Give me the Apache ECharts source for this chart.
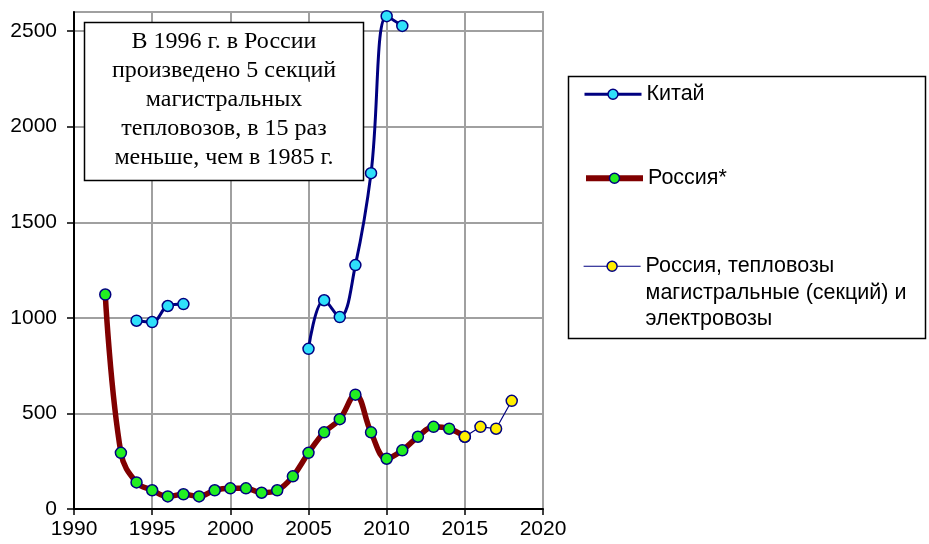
<!DOCTYPE html>
<html>
<head>
<meta charset="utf-8">
<script src="https://cdn.jsdelivr.net/npm/echarts@6/dist/echarts.min.js"></script>
<style>
  html, body { margin: 0; padding: 0; background: #fff; }
  #chart { width: 929px; height: 544px; }
</style>
</head>
<body>
<div id="chart"></div>
<script>
// Годы наблюдений (общая ось для всех рядов)
const years = [1992, 1993, 1994, 1995, 1996, 1997, 1998, 1999, 2000, 2001, 2002, 2003, 2004,
               2005, 2006, 2007, 2008, 2009, 2010, 2011, 2012, 2013, 2014, 2015, 2016, 2017, 2018];

// Китай (пропуски — нет данных)
const china = [null, null, 985, 978, 1062, 1072, null, null, null, null, null, null, null,
               838, 1092, 1004, 1276, 1757, 2578, 2527, null, null, null, null, null, null, null];

// Россия*
const russia = [1122, 294, 139, 98, 66, 77, 66, 98, 108, 108, 85, 98, 171,
                294, 401, 470, 598, 401, 263, 307, 378, 430, 420, 378, null, null, null];

// Россия, тепловозы магистральные (секций) и электровозы
const russiaLoco = [null, null, null, null, null, null, null, null, null, null, null, null, null,
                    null, null, null, null, null, null, null, null, null, null, 378, 430, 420, 566];

// Подписи делений осей
const xTicks = [1990, 1995, 2000, 2005, 2010, 2015, 2020];
const yTicks = [0, 500, 1000, 1500, 2000, 2500];

const seriesNames = ['Китай', 'Россия*', 'Россия, тепловозы магистральные (секций) и электровозы'];
const legendLabel3 = ['Россия, тепловозы', 'магистральные (секций) и', 'электровозы'];
const noteLines = ['В 1996 г. в России', 'произведено 5 секций', 'магистральных',
                   'тепловозов, в 15 раз', 'меньше, чем в 1985 г.'];

function pairs(values) {
  return years.map((y, i) => [y, values[i] == null ? null : values[i]]);
}

const NAVY = '#000080';
const MAROON = '#800000';
const GRID_GRAY = '#a0a0a0';
const sansFont = '"Liberation Sans", Arial, sans-serif';

const chart = echarts.init(document.getElementById('chart'), null, { renderer: 'canvas' });

const legendText = { color: '#000', fontSize: 21.5, fontFamily: sansFont, lineHeight: 26.5 };

function legendBlock(name, top, lineWidth, extra) {
  return Object.assign({
    data: [name], orient: 'vertical', left: 583, top: top, padding: 0,
    itemWidth: 57, itemHeight: 12.5, selectedMode: false, z: 20,
    lineStyle: { width: lineWidth },
    itemStyle: { borderWidth: 1.5, borderColor: NAVY },
    textStyle: legendText
  }, extra || {});
}

chart.setOption({
  animation: false,
  backgroundColor: '#fff',
  grid: {
    left: 74, right: 386, top: 12, bottom: 35, containLabel: false,
    show: true, borderColor: GRID_GRAY, borderWidth: 2, backgroundColor: 'transparent'
  },
  xAxis: {
    type: 'value',
    min: xTicks[0], max: xTicks[xTicks.length - 1], interval: 5,
    axisLine: { show: true, onZero: false, lineStyle: { color: '#000', width: 2 } },
    axisTick: { show: true, length: 6, lineStyle: { color: '#000', width: 1.5 } },
    axisLabel: { color: '#000', fontSize: 21, fontFamily: sansFont, margin: 10, formatter: v => String(v) },
    splitLine: { show: true, lineStyle: { color: GRID_GRAY, width: 2 } }
  },
  yAxis: {
    type: 'value',
    min: 0, max: 2600, interval: 500,
    axisLine: { show: true, lineStyle: { color: '#000', width: 2 } },
    axisTick: { show: true, length: 7, customValues: yTicks, lineStyle: { color: '#000', width: 1.5 } },
    axisLabel: {
      color: '#000', fontSize: 21, fontFamily: sansFont, margin: 17,
      customValues: yTicks, formatter: v => String(v)
    },
    splitLine: { show: true, lineStyle: { color: GRID_GRAY, width: 2 } }
  },
  legend: [
    legendBlock(seriesNames[0], 81, 3),
    legendBlock(seriesNames[1], 165, 6),
    legendBlock(seriesNames[2], 200, 1.2, {
      // две пустые строки сверху выравнивают значок по первой строке подписи
      formatter: () => '\n\n' + legendLabel3.join('\n')
    })
  ],
  graphic: [
    {
      type: 'rect', z: 10,
      shape: { x: 568.5, y: 76.5, width: 357, height: 262 },
      style: { fill: '#fff', stroke: '#000', lineWidth: 1.5 }
    },
    {
      type: 'group', z: 30,
      children: [
        {
          type: 'rect', z: 30,
          shape: { x: 84.5, y: 22.5, width: 279, height: 158 },
          style: { fill: '#fff', stroke: '#000', lineWidth: 1.5 }
        },
        {
          type: 'text', z: 31,
          x: 224, y: 100,
          style: {
            text: noteLines.join('\n'),
            fill: '#000',
            font: '24px "Liberation Serif", "Times New Roman", serif',
            lineHeight: 29,
            align: 'center',
            verticalAlign: 'middle'
          }
        }
      ]
    }
  ],
  series: [
    {
      name: seriesNames[0], type: 'line', data: pairs(china),
      smooth: 0.4, connectNulls: false,
      symbol: 'circle', symbolSize: 11, showSymbol: true,
      lineStyle: { color: NAVY, width: 3 },
      itemStyle: { color: '#2fe0fa', borderColor: NAVY, borderWidth: 1.5 },
      z: 3
    },
    {
      name: seriesNames[1], type: 'line', data: pairs(russia),
      smooth: 0.4, connectNulls: false,
      symbol: 'circle', symbolSize: 11, showSymbol: true,
      lineStyle: { color: MAROON, width: 5.5 },
      itemStyle: { color: '#22ee22', borderColor: NAVY, borderWidth: 1.5 },
      z: 4
    },
    {
      name: seriesNames[2], type: 'line', data: pairs(russiaLoco),
      smooth: false, connectNulls: false,
      symbol: 'circle', symbolSize: 11, showSymbol: true,
      lineStyle: { color: NAVY, width: 1.2 },
      itemStyle: { color: '#ffee00', borderColor: NAVY, borderWidth: 1.5 },
      z: 5
    }
  ]
});
</script>
</body>
</html>
